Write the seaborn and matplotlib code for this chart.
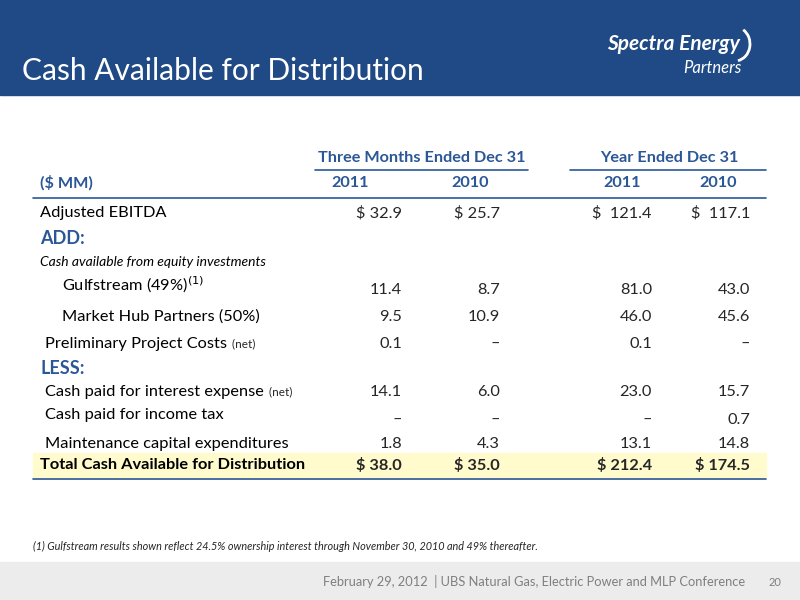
import matplotlib
matplotlib.use("Agg")
import matplotlib.pyplot as plt
import seaborn as sns
from matplotlib.patches import Rectangle, Arc

sns.set_theme(style="white")
plt.rcParams['font.family'] = ['Lato', 'DejaVu Sans']

title = "Cash Available for Distribution"
group_headers = ["Three Months Ended Dec 31", "Year Ended Dec 31"]
years = ["2011", "2010", "2011", "2010"]
row_labels = ["Adjusted EBITDA", "ADD:", "Cash available from equity investments",
              "Gulfstream (49%)$^{(1)}$", "Market Hub Partners (50%)",
              "Preliminary Project Costs", "LESS:", "Cash paid for interest expense",
              "Cash paid for income tax", "Maintenance capital expenditures",
              "Total Cash Available for Distribution"]
row_kinds = ["plain", "section", "italic", "ind2", "ind2", "ind1", "section",
             "ind1", "ind1", "ind1", "total"]
row_suffix = ["", "", "", "", "", " (net)", "", " (net)", "", "", ""]
q2011 = ["$ 32.9", "", "", "11.4", "9.5", "0.1", "", "14.1", "–", "1.8", "$ 38.0"]
q2010 = ["$ 25.7", "", "", "8.7", "10.9", "–", "", "6.0", "–", "4.3", "$ 35.0"]
y2011 = ["$  121.4", "", "", "81.0", "46.0", "0.1", "", "23.0", "–", "13.1", "$ 212.4"]
y2010 = ["$  117.1", "", "", "43.0", "45.6", "–", "", "15.7", "0.7", "14.8", "$ 174.5"]
footnote = "(1) Gulfstream results shown reflect 24.5% ownership interest through November 30, 2010 and 49% thereafter."
footer = "February 29, 2012  | UBS Natural Gas, Electric Power and MLP Conference"
page = "20"

blue = "#2B5797"
navy = "#1F4A85"
fs = 11.8
fig = plt.figure(figsize=(8, 6), dpi=100)
ax = fig.add_axes([0, 0, 1, 1])
ax.set_xlim(0, 800); ax.set_ylim(600, 0); ax.axis("off")

ax.add_patch(Rectangle((0, 0), 800, 95, color=navy, zorder=0))
ax.text(22, 71, title, color="white", fontsize=21.5, va="center")
ax.text(740, 44, "Spectra Energy", color="white", fontsize=15, fontweight="bold",
        style="italic", ha="right", va="center")
ax.text(742, 68, "Partners", color="white", fontsize=12, style="italic", ha="right", va="center")
ax.add_patch(Arc((735, 44), 30, 34, theta1=-60, theta2=80, color="white", lw=2))
ax.add_patch(Rectangle((0, 562), 800, 38, color="#ECECEC", zorder=0))
ax.text(745, 582, footer, color="#7F7F7F", fontsize=9.3, ha="right", va="center")
ax.text(775, 582, page, color="#7F7F7F", fontsize=8, ha="center", va="center")

ax.text(422, 158, group_headers[0], color=blue, fontsize=11.7, fontweight="bold", ha="center", va="center")
ax.text(669, 158, group_headers[1], color=blue, fontsize=11.7, fontweight="bold", ha="center", va="center")
ax.plot([315, 528], [170, 170], color=blue, lw=1.2)
ax.plot([570, 766], [170, 170], color=blue, lw=1.2)
ax.text(40, 183, "($ MM)", color=blue, fontsize=11.7, fontweight="bold", va="center")
for x, yr in zip([350, 470, 622, 718], years):
    ax.text(x, 183, yr, color=blue, fontsize=11.7, fontweight="bold", ha="center", va="center")
ax.plot([33, 766], [198, 198], color=blue, lw=1.2)

ys = [213, 238, 262, 290, 317, 344, 368, 392, 420, 444, 465]
ax.add_patch(Rectangle((33, 453), 733, 25, color="#FFFBCC", zorder=0))
ax.plot([33, 766], [479, 479], color=blue, lw=1.2)
colx = [402, 500, 652, 750]
for i, (lab, kind, y) in enumerate(zip(row_labels, row_kinds, ys)):
    ly = y - 5 if i in (3, 8) else y
    if kind == "section":
        ax.text(40, y, lab, color=blue, fontsize=13, fontweight="bold", va="center")
    elif kind == "italic":
        ax.text(40, y, lab, color="black", fontsize=10, style="italic", va="center")
    elif kind == "total":
        ax.text(40, y, lab, color="black", fontsize=11.8, fontweight="bold", va="center")
    else:
        x0 = {"plain": 40, "ind1": 45, "ind2": 62}[kind]
        t = ax.text(x0, ly, lab, color="black", fontsize=fs, va="center")
        if row_suffix[i]:
            fig.canvas.draw()
            bb = t.get_window_extent()
            ax.text(x0 + bb.width + 2, ly, row_suffix[i], fontsize=8.5, va="center")
    for x, col in zip(colx, [q2011, q2010, y2011, y2010]):
        if col[i]:
            ax.text(x, y, col[i], fontsize=fs, ha="right", va="center",
                    fontweight="bold" if kind == "total" else "normal")

ax.text(33, 546, footnote, fontsize=7.8, style="italic", va="center")
fig.savefig("out.png", dpi=100)
